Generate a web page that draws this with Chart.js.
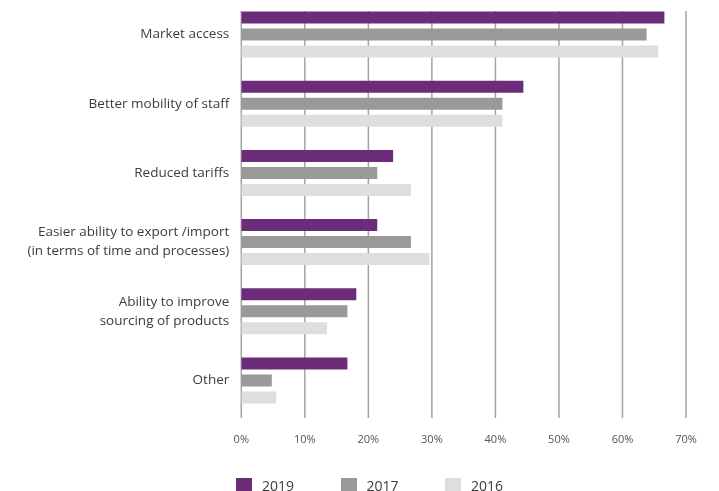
<!DOCTYPE html>
<html>
<head>
<meta charset="utf-8">
<script src="https://cdn.jsdelivr.net/npm/chart.js@4/dist/chart.umd.min.js"></script>
<style>
  body { margin: 0; background: #fff; }
  #wrap { position: relative; width: 719px; height: 491px; overflow: hidden; }
  #legenda { position: absolute; left: 236px; top: 476px; font-family: "Open Sans", sans-serif; font-size: 14px; color: #3c3c3c; white-space: nowrap; }
  #legenda span.item { display: inline-block; width: 104.5px; line-height: 15px; }
  #legenda span.caixa { display: inline-block; width: 16px; height: 15px; margin-right: 10px; vertical-align: top; }
</style>
</head>
<body>
<div id="wrap">
  <canvas id="grafico-1" width="719" height="491"></canvas>
  <div id="legenda"></div>
</div>
<script>
  // categorias e séries
  let categorias = [
    "Market access",
    "Better mobility of staff",
    "Reduced tariffs",
    ["Easier ability to export /import", "(in terms of time and processes)"],
    ["Ability to improve", "sourcing of products"],
    "Other"
  ];
  let anos = ["2019", "2017", "2016"];
  let valores2019 = [66.6, 44.4, 23.9, 21.4, 18.1, 16.7];
  let valores2017 = [63.8, 41.1, 21.4, 26.7, 16.7, 4.8];
  let valores2016 = [65.6, 41.1, 26.7, 29.6, 13.5, 5.5];
  let ticksX = [0, 10, 20, 30, 40, 50, 60, 70];

  let cores = ['rgb(107, 44, 121)', 'rgb(153, 153, 153)', 'rgb(222, 222, 222)'];

  // linhas verticais da grade, desenhadas por baixo das barras
  const gradeVertical = {
    id: 'gradeVertical',
    beforeDatasetsDraw(chart) {
      const ctx = chart.ctx;
      const x = chart.scales.x;
      const area = chart.chartArea;
      ctx.save();
      ctx.strokeStyle = '#a3a3a3';
      ctx.lineWidth = 1.5;
      ticksX.forEach(v => {
        const px = x.getPixelForValue(v);
        ctx.beginPath();
        ctx.moveTo(px, area.top + 11);
        ctx.lineTo(px, area.bottom + 3);
        ctx.stroke();
      });
      ctx.restore();
    }
  };

  function criarGrafico(idGrafico) {
    var ctx = document.getElementById(idGrafico).getContext('2d');
    var series = [valores2019, valores2017, valores2016];
    var chart = new Chart(ctx, {
      type: 'bar',
      data: {
        labels: categorias,
        datasets: series.map((dados, i) => ({
          label: anos[i],
          data: dados,
          backgroundColor: cores[i],
          borderWidth: 0,
          barPercentage: 0.706,
          categoryPercentage: 0.737
        }))
      },
      options: {
        indexAxis: 'y',
        responsive: false,
        animation: false,
        layout: { padding: { top: 0, right: 33, bottom: 40, left: 0 } },
        plugins: {
          legend: { display: false },
          tooltip: { enabled: false }
        },
        scales: {
          x: {
            min: 0,
            max: 70,
            grid: { display: false, drawTicks: false },
            border: { display: false },
            afterBuildTicks: s => { s.ticks = ticksX.map(v => ({ value: v })); },
            afterFit: s => { s.height = 36; s.paddingLeft = 0; s.paddingRight = 0; },
            ticks: {
              padding: 18,
              color: '#555',
              font: { family: 'Open Sans', size: 11 },
              callback: v => v + '%'
            }
          },
          y: {
            grid: { display: false, drawTicks: false },
            border: { display: false },
            afterFit: s => { s.width = 241.3; s.paddingTop = 0; s.paddingBottom = 0; },
            ticks: {
              padding: 12,
              color: '#3c3c3c',
              font: { family: 'Open Sans', size: 13.5, lineHeight: 1.4 }
            }
          }
        }
      },
      plugins: [gradeVertical]
    });

    // legenda em HTML a partir dos datasets
    var leg = document.getElementById('legenda');
    chart.data.datasets.forEach(ds => {
      var item = document.createElement('span');
      item.className = 'item';
      var caixa = document.createElement('span');
      caixa.className = 'caixa';
      caixa.style.background = ds.backgroundColor;
      item.appendChild(caixa);
      item.appendChild(document.createTextNode(ds.label));
      leg.appendChild(item);
    });
  }

  criarGrafico("grafico-1");
</script>
</body>
</html>
